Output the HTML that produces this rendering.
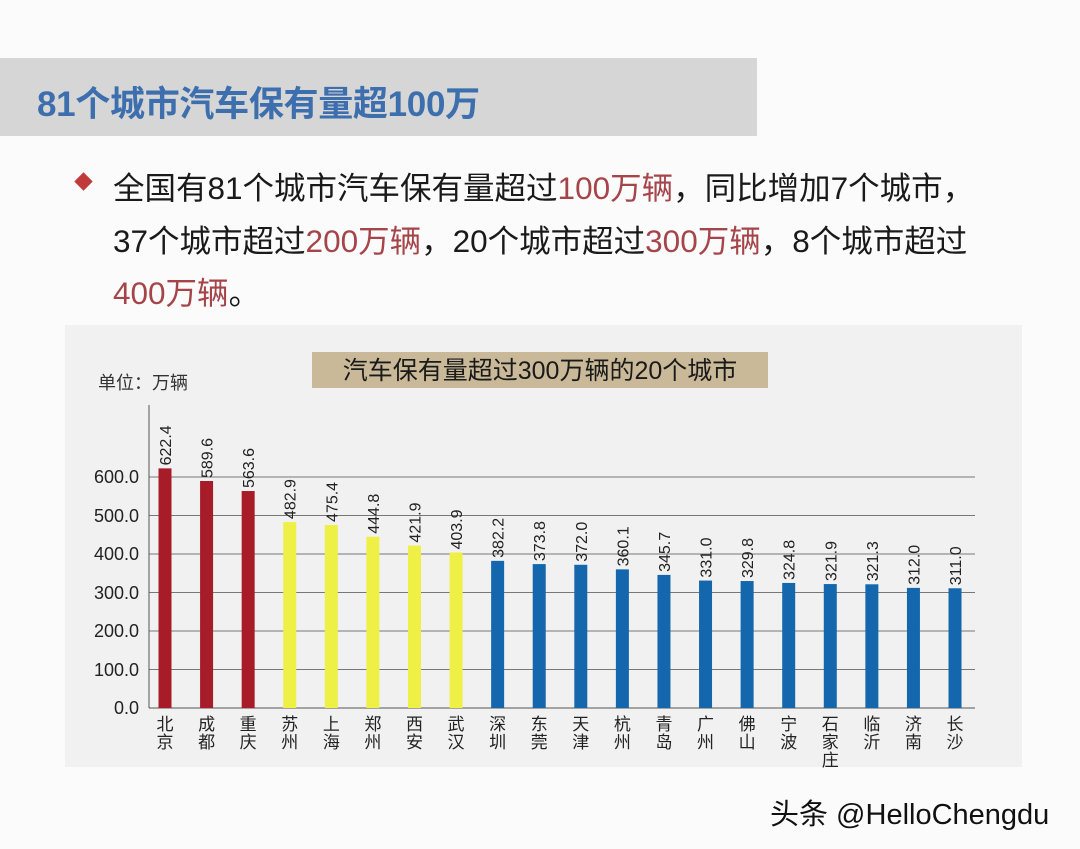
<!DOCTYPE html>
<html><head><meta charset="utf-8"><style>
body{margin:0;width:1080px;height:849px;background:#fbfbfb;overflow:hidden;position:relative;font-family:"Liberation Sans","Noto Sans CJK SC",sans-serif}
.band{position:absolute;left:0;top:58px;width:757px;height:78px;background:#d6d6d6}
.title{position:absolute;left:37px;top:76px;font-size:35px;font-weight:bold;color:#3d6ead;letter-spacing:-0.3px}
.p{position:absolute;left:113px;font-size:31.5px;color:#1a1a1a;white-space:nowrap}
.r{color:#a5454a}
.dia{position:absolute;left:77px;top:175px;width:13px;height:13px;background:#c0393b;transform:rotate(45deg)}
.wm{position:absolute;left:770px;top:791px;font-size:29px;color:#111}
</style></head><body>
<div class="band"></div>
<div class="title">81个城市汽车保有量超100万</div>
<div class="dia"></div>
<div class="p" style="top:163px">全国有81个城市汽车保有量超过<span class="r">100万辆</span>，同比增加7个城市，</div>
<div class="p" style="top:216px">37个城市超过<span class="r">200万辆</span>，20个城市超过<span class="r">300万辆</span>，8个城市超过</div>
<div class="p" style="top:268px"><span class="r">400万辆</span>。</div>
<svg style="position:absolute;left:0;top:0" width="1080" height="849">
<rect x="65" y="325" width="957" height="442" fill="#f1f1f1"/>
<rect x="312" y="352" width="456" height="36" fill="#c9b998"/>
<text x="540" y="379" font-size="25" text-anchor="middle" fill="#1a1a1a" font-family="Liberation Sans,Noto Sans CJK SC,sans-serif">汽车保有量超过300万辆的20个城市</text>
<text x="98" y="389" font-size="18" fill="#333" font-family="Liberation Sans,Noto Sans CJK SC,sans-serif">单位：万辆</text>
<g stroke="#777" stroke-width="1">
<line x1="149" y1="669.5" x2="975" y2="669.5"/><line x1="149" y1="631" x2="975" y2="631"/>
<line x1="149" y1="592.5" x2="975" y2="592.5"/><line x1="149" y1="554" x2="975" y2="554"/>
<line x1="149" y1="515.5" x2="975" y2="515.5"/><line x1="149" y1="477" x2="975" y2="477"/>
<line x1="149" y1="708" x2="975" y2="708" stroke="#555"/><line x1="149" y1="405" x2="149" y2="708" stroke="#555"/>
</g>
<g font-size="18" fill="#222" text-anchor="end" font-family="Liberation Sans,sans-serif">
<text x="139" y="714">0.0</text><text x="139" y="676">100.0</text><text x="139" y="637">200.0</text><text x="139" y="599">300.0</text><text x="139" y="560">400.0</text><text x="139" y="522">500.0</text><text x="139" y="483">600.0</text>
</g>
<g id="bars"></g>
</svg>
<script>
var v=[622.4,589.6,563.6,482.9,475.4,444.8,421.9,403.9,382.2,373.8,372.0,360.1,345.7,331.0,329.8,324.8,321.9,321.3,312.0,311.0];
var c=["北京","成都","重庆","苏州","上海","郑州","西安","武汉","深圳","东莞","天津","杭州","青岛","广州","佛山","宁波","石家庄","临沂","济南","长沙"];
var s="";
for(var i=0;i<20;i++){var cx=165+41.58*i,h=v[i]*0.385,t=708-h;
var col=i<3?"#a81c2a":(i<8?"#eef046":"#1467ac");
s+='<rect x="'+(cx-6.5)+'" y="'+t+'" width="13" height="'+h+'" fill="'+col+'"/>';
s+='<text transform="translate('+(cx+6)+','+(t-3)+') rotate(-90)" font-size="16" fill="#222" font-family="Liberation Sans,sans-serif">'+v[i].toFixed(1)+'</text>';
for(var k=0;k<c[i].length;k++)s+='<text x="'+cx+'" y="'+(730+k*18)+'" font-size="17" text-anchor="middle" fill="#222" font-family="Noto Sans CJK SC,sans-serif">'+c[i][k]+'</text>';}
document.getElementById("bars").innerHTML=s;
</script>
<div class="wm">头条 @HelloChengdu</div>
</body></html>
